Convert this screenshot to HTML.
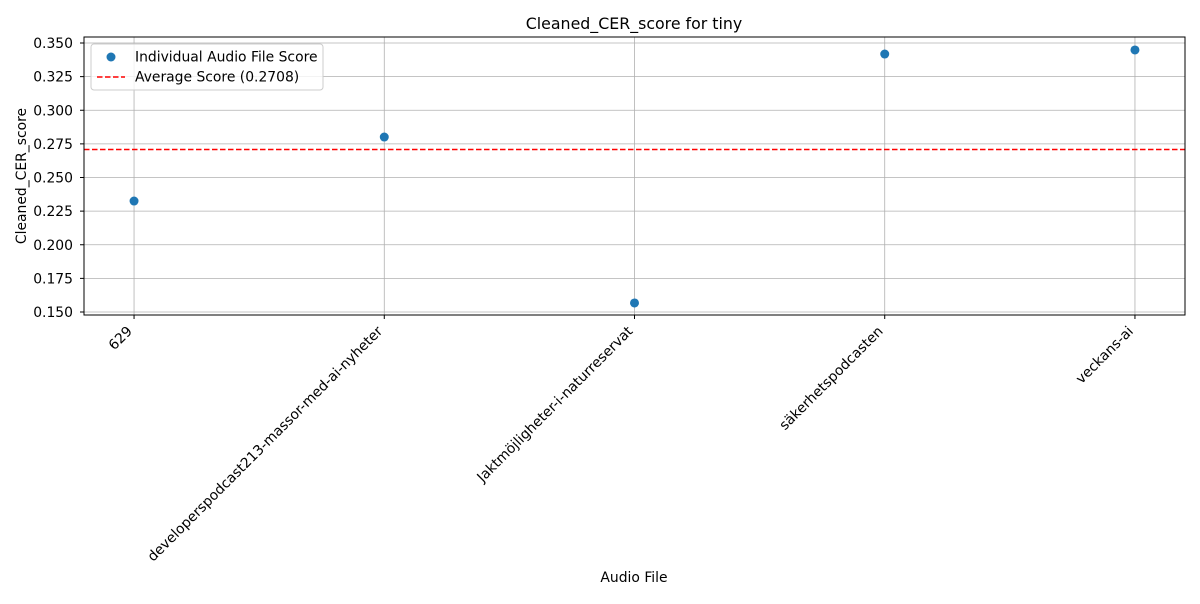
<!DOCTYPE html>
<html><head><meta charset="utf-8"><style>
body{margin:0;background:#fff;font-family:"DejaVu Sans","Liberation Sans",sans-serif;}
svg text{font-family:"DejaVu Sans","Liberation Sans",sans-serif;}
</style></head><body>
<svg id="chart" width="1200" height="600" xmlns="http://www.w3.org/2000/svg">
<text x="634" y="29" font-size="15.8" text-anchor="middle">Cleaned_CER_score for tiny</text>
<g id="grid"></g><g id="marks"></g><g id="axes"></g>
<text x="634" y="582" font-size="13.9" text-anchor="middle">Audio File</text>
<text transform="translate(26,176) rotate(-90)" font-size="13.9" text-anchor="middle">Cleaned_CER_score</text>
<g>
<rect x="91" y="44" width="232" height="46" fill="#fff" fill-opacity="0.8" stroke="#ccc" rx="3"/>
<circle cx="111" cy="57" r="4.5" fill="#1f77b4"/>
<text x="135" y="61.5" font-size="13.9">Individual Audio File Score</text>
<line x1="97" y1="77" x2="125" y2="77" stroke="red" stroke-width="1.5" stroke-dasharray="5.5,2.5"/>
<text x="135" y="81.5" font-size="13.9">Average Score (0.2708)</text>
</g>
</svg>
<script>
const categories=["629","developerspodcast213-massor-med-ai-nyheter","Jaktmöjligheter-i-naturreservat","säkerhetspodcasten","veckans-ai"];
const scores=[0.2325,0.2801,0.1567,0.3418,0.3448];
const average=0.2708;
const yTicks=[0.150,0.175,0.200,0.225,0.250,0.275,0.300,0.325,0.350];
const NS="http://www.w3.org/2000/svg";
const L=84,R=1185,T=37,B=315;
const xs=i=>L+(i+0.2)/4.4*(R-L);
const ys=v=>312-(v-0.15)/0.2*269;
function mk(tag,at,parent){const e=document.createElementNS(NS,tag);for(const k in at)e.setAttribute(k,at[k]);document.getElementById(parent).appendChild(e);return e;}
yTicks.forEach(t=>{
 const y=ys(t);
 const g=mk('line',{x1:L,x2:R,y1:y,y2:y,stroke:'#b0b0b0','stroke-width':0.8},'grid');
 
 
 mk('line',{x1:L-4,x2:L,y1:y,y2:y,stroke:'#000'},'axes');
 const tx=mk('text',{x:L-11,y:y+5,'font-size':13.9,'text-anchor':'end'},'axes');
 tx.textContent=t.toFixed(3);
 
 
});
categories.forEach((c,i)=>{
 const x=xs(i);
 const g=mk('line',{x1:x,x2:x,y1:T,y2:B,stroke:'#b0b0b0','stroke-width':0.8},'grid');
 
 
 mk('line',{x1:x,x2:x,y1:B,y2:B+4,stroke:'#000'},'axes');
 const tx=mk('text',{transform:`translate(${x-1},${B+17}) rotate(-45)`,'font-size':13.9,'text-anchor':'end'},'axes');
 tx.textContent=c;
 
 
});
const av=mk('line',{x1:L,x2:R,y1:ys(average),y2:ys(average),stroke:'red','stroke-width':1.5,'stroke-dasharray':'5.5,2.5'},'marks');


scores.forEach((v,i)=>{
 const p=mk('circle',{cx:xs(i),cy:ys(v),r:4.5,fill:'#1f77b4'},'marks');
 
 
});
const fr=mk('rect',{x:L,y:T,width:R-L,height:B-T,fill:'none',stroke:'#000','stroke-width':1},'axes');


</script>
</body></html>
